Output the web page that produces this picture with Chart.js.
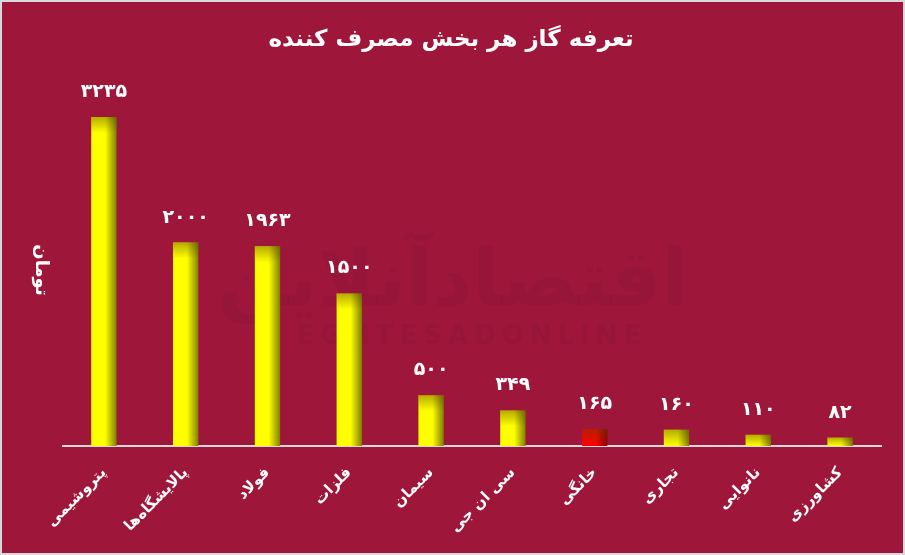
<!DOCTYPE html>
<html>
<head>
<meta charset="utf-8">
<script src="https://cdn.jsdelivr.net/npm/chart.js@4"></script>
<style>
  html, body { margin: 0; padding: 0; background: #d9d9d9; }
  #wrap { position: absolute; left: 2px; top: 2px; width: 901px; height: 551px; background: #9e173b; }
</style>
</head>
<body>
<div id="wrap"><canvas id="gas-chart"></canvas></div>
<script>
const categories = ['پتروشیمی', 'پالایشگاه‌ها', 'فولاد', 'فلزات', 'سیمان', 'سی ان جی', 'خانگی', 'تجاری', 'نانوایی', 'کشاورزی'];
const tariffs = [3235, 2000, 1963, 1500, 500, 349, 165, 160, 110, 82];
const redIndex = 6;
const BAR_PCT = 0.31;

const chartTitle = 'تعرفه گاز هر بخش مصرف کننده';
const unitLabel = 'تومان';

const FONT = '"DejaVu Sans", sans-serif';

const toPersian = (n) => String(n).replace(/\d/g, d => '۰۱۲۳۴۵۶۷۸۹'[d]);

const barColor = (ctx) => {
  const chart = ctx.chart;
  const isRed = ctx.dataIndex === redIndex;
  const light = isRed ? '#ff0000' : '#ffff00';
  const dark = isRed ? '#8a0000' : '#7f7f00';
  const xScale = chart.scales.x;
  if (!chart.chartArea || !xScale) return light;
  const w = (xScale.width / categories.length) * BAR_PCT;
  const left = xScale.getPixelForValue(ctx.dataIndex) - w / 2;
  const g = chart.ctx.createLinearGradient(left, 0, left + w, 0);
  g.addColorStop(0, light);
  g.addColorStop(0.55, light);
  g.addColorStop(1, dark);
  return g;
};

const decor = {
  id: 'decor',
  beforeDatasetsDraw(chart) {
    // faint watermark behind the bars
    const { ctx } = chart;
    ctx.save();
    ctx.fillStyle = 'rgba(60,0,20,0.065)';
    ctx.textAlign = 'center';
    ctx.textBaseline = 'middle';
    ctx.font = 'bold 78px ' + FONT;
    ctx.fillText('اقتصادآنلاین', 451, 283);
    ctx.font = 'bold 26px ' + FONT;
    if ('letterSpacing' in ctx) ctx.letterSpacing = '6px';
    ctx.fillText('EGHTESADONLINE', 470, 335);
    ctx.restore();
  },
  afterDatasetsDraw(chart) {
    const { ctx } = chart;
    const meta = chart.getDatasetMeta(0);
    ctx.save();
    // darker band at the top of each bar
    meta.data.forEach((bar) => {
      const left = bar.x - bar.width / 2;
      const h = Math.min(16, bar.base - bar.y);
      const g = ctx.createLinearGradient(0, bar.y, 0, bar.y + h);
      g.addColorStop(0, 'rgba(90,70,0,0.45)');
      g.addColorStop(1, 'rgba(90,70,0,0)');
      ctx.fillStyle = g;
      ctx.fillRect(left, bar.y, bar.width, h);
    });
    ctx.fillStyle = '#ffffff';
    ctx.textAlign = 'center';
    ctx.textBaseline = 'middle';
    ctx.font = 'bold 19px ' + FONT;
    meta.data.forEach((bar, i) => {
      ctx.fillText(toPersian(tariffs[i]), bar.x, bar.y - 25);
    });
    ctx.font = 'bold 23px ' + FONT;
    ctx.fillText(chartTitle, 449, 38);
    // unit label, reading top to bottom
    ctx.translate(39, 268);
    ctx.rotate(Math.PI / 2);
    ctx.font = 'bold 18px ' + FONT;
    ctx.fillText(unitLabel, 0, 0);
    ctx.restore();
  }
};

new Chart(document.getElementById('gas-chart'), {
  type: 'bar',
  data: {
    labels: categories,
    datasets: [{
      data: tariffs,
      backgroundColor: barColor,
      categoryPercentage: 1,
      barPercentage: BAR_PCT
    }]
  },
  options: {
    responsive: true,
    maintainAspectRatio: false,
    animation: false,
    layout: { padding: { left: 61, right: 22, top: 88, bottom: 0 } },
    plugins: {
      legend: { display: false },
      tooltip: { enabled: false },
      title: { display: false }
    },
    scales: {
      x: {
        grid: { display: false },
        border: { color: '#d9d9d9', width: 2 },
        afterFit: (scale) => { scale.height = 107; },
        ticks: {
          color: '#ffffff',
          font: { family: FONT, size: 15, weight: 'bold' },
          minRotation: 45,
          maxRotation: 45,
          padding: 10
        }
      },
      y: {
        min: 0,
        max: 3500,
        afterFit: (scale) => { scale.width = 0; },
        grid: { display: false },
        border: { display: false },
        ticks: { display: false }
      }
    }
  },
  plugins: [decor]
});
</script>
</body>
</html>
